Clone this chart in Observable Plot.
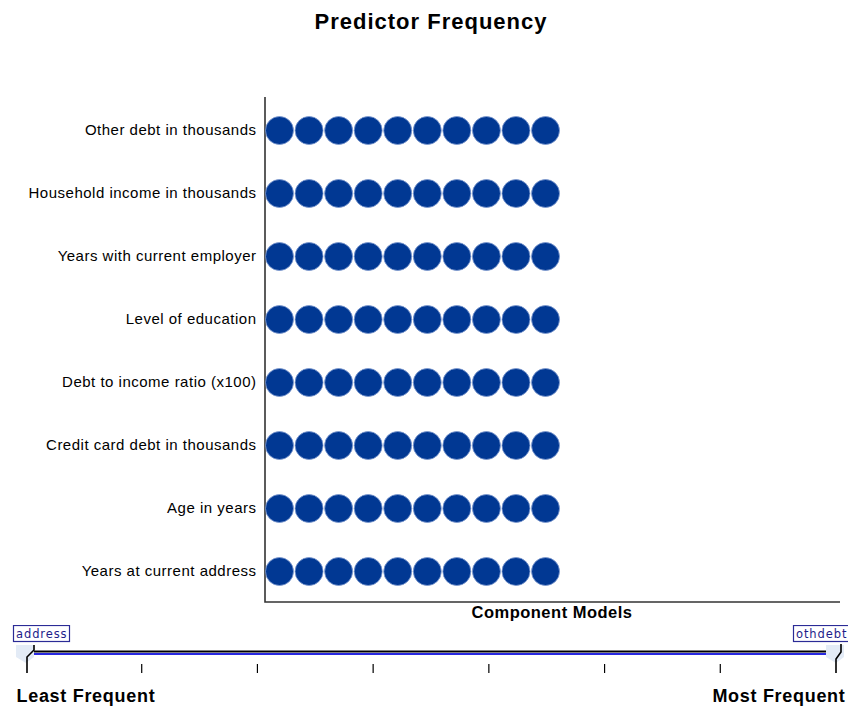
<!DOCTYPE html>
<html>
<head>
<meta charset="utf-8">
<script src="https://cdn.jsdelivr.net/npm/d3@7"></script>
<script src="https://cdn.jsdelivr.net/npm/@observablehq/plot@0.6"></script>
<style>
  html, body { margin: 0; padding: 0; background: #fff; }
  body { width: 848px; height: 706px; overflow: hidden; font-family: "Liberation Sans", Arial, sans-serif; }
  #title { height: 45px; box-sizing: border-box; padding-top: 12px; line-height: 20px; font-size: 22px; letter-spacing: 1px; font-weight: bold; text-align: center; color: #000; padding-left: 14px; }
  svg { display: block; }
</style>
</head>
<body>
<div id="title">Predictor Frequency</div>
<div id="chart"></div>
<div id="slider"></div>
<script>
// ---- data ----
const predictors = [
  "Other debt in thousands",
  "Household income in thousands",
  "Years with current employer",
  "Level of education",
  "Debt to income ratio (x100)",
  "Credit card debt in thousands",
  "Age in years",
  "Years at current address"
];
const frequency = [10, 10, 10, 10, 10, 10, 10, 10];
const sliderTicks = [0, 1, 2, 3, 4, 5, 6, 7];
const sliderLabels = ["address", "othdebt"];
const endLabels = ["Least Frequent", "Most Frequent"];

// one dot per component model in which the predictor appears
const dots = [];
predictors.forEach((p, i) => {
  for (let m = 1; m <= frequency[i]; m++) dots.push({predictor: p, model: m});
});

const axisLines = (index, scales, values, dim) => {
  const l = dim.marginLeft, r = dim.width - dim.marginRight;
  const t = dim.marginTop, b = dim.height - dim.marginBottom;
  return d3.create("svg:path")
    .attr("d", `M${l},${t - 1}V${b}H${r}`)
    .attr("fill", "none").attr("stroke", "#333").attr("stroke-width", 1.6)
    .node();
};

const chart = Plot.plot({
  width: 848,
  height: 580,
  marginTop: 53,
  marginBottom: 23,
  marginLeft: 265,
  marginRight: 8,
  style: {fontFamily: "Liberation Sans, Arial, sans-serif", fontSize: "15px", color: "#000", background: "#fff", letterSpacing: "0.5px"},
  x: {domain: [0.526, 19.98], axis: null},
  y: {domain: predictors, padding: 0.5, label: null},
  marks: [
    Plot.axisY({tickSize: 0, tickPadding: 9, fontSize: 15, label: null}),
    axisLines,
    Plot.dot(dots, {x: "model", y: "predictor", r: 14, fill: "#013893", stroke: "#7f9bd0", strokeWidth: 0.8}),
    Plot.text(["Component Models"], {frameAnchor: "bottom", dy: 15, fontWeight: "bold", fontSize: 16.5, dx: -1})
  ]
});
document.getElementById("chart").append(chart);

// ---- frequency slider widget ----
const sliderWidget = (index, {x}, values, dim) => {
  const g = d3.create("svg:g");
  const x0 = x(sliderTicks[0]), x1 = x(sliderTicks[sliderTicks.length - 1]);
  // thumbs
  [x0, x1].forEach(cx => {
    g.append("path")
      .attr("d", `M${cx - 10},20V32L${cx},38L${cx + 8},32V20Z`)
      .attr("fill", "#e3ebf6");
  });
  // track
  g.append("line").attr("x1", x0 + 8).attr("x2", x1 - 10).attr("y1", 26.5).attr("y2", 26.5)
    .attr("stroke", "#000").attr("stroke-width", 2);
  g.append("line").attr("x1", x0 + 8).attr("x2", x1 - 10).attr("y1", 29).attr("y2", 29)
    .attr("stroke", "#2828e0").attr("stroke-width", 2);
  // end markers
  g.append("path").attr("d", `M${x0 + 8},20V25L${x0 + 1},32V48`)
    .attr("fill", "none").attr("stroke", "#000").attr("stroke-width", 1.6);
  g.append("path").attr("d", `M${x1 + 5},19V27L${x1},34V48`)
    .attr("fill", "none").attr("stroke", "#000").attr("stroke-width", 1.6);
  // inner ticks
  sliderTicks.slice(1, -1).forEach(t => {
    g.append("line").attr("x1", x(t)).attr("x2", x(t)).attr("y1", 39).attr("y2", 48)
      .attr("stroke", "#000").attr("stroke-width", 1.2);
  });
  // labels
  const boxes = [[13, 56, sliderLabels[0]], [793, 60, sliderLabels[1]]];
  boxes.forEach(([bx, bw, txt]) => {
    g.append("rect").attr("x", bx + 0.5).attr("y", 0.5).attr("width", bw).attr("height", 16)
      .attr("fill", "#fff").attr("stroke", "#2b2b96").attr("stroke-width", 1.2);
    g.append("text").attr("x", bx + 3).attr("y", 12.5).text(txt)
      .attr("text-anchor", "start")
      .attr("fill", "#1d1d8a").attr("font-family", "DejaVu Sans, Verdana, sans-serif")
      .attr("font-size", 11.5).attr("letter-spacing", 0.9);
  });
  return g.node();
};

const slider = Plot.plot({
  width: 848,
  height: 81,
  margin: 0,
  style: {fontFamily: "Liberation Sans, Arial, sans-serif", background: "#fff", overflow: "hidden"},
  x: {domain: [sliderTicks[0], sliderTicks[sliderTicks.length - 1]], range: [26, 836], axis: null},
  y: {axis: null},
  marks: [
    sliderWidget,
    Plot.text([endLabels[0]], {frameAnchor: "bottom-left", dx: 16, dy: -5, fontWeight: "bold", fontSize: 18, textAnchor: "start", lineAnchor: "bottom"}),
    Plot.text([endLabels[1]], {frameAnchor: "bottom-right", dx: -3, dy: -5, fontWeight: "bold", fontSize: 18, textAnchor: "end", lineAnchor: "bottom"})
  ]
});
slider.querySelectorAll("text").forEach(t => { if (t.textContent.includes("Frequent")) t.style.letterSpacing = "0.7px"; });
document.getElementById("slider").append(slider);
</script>
</body>
</html>
